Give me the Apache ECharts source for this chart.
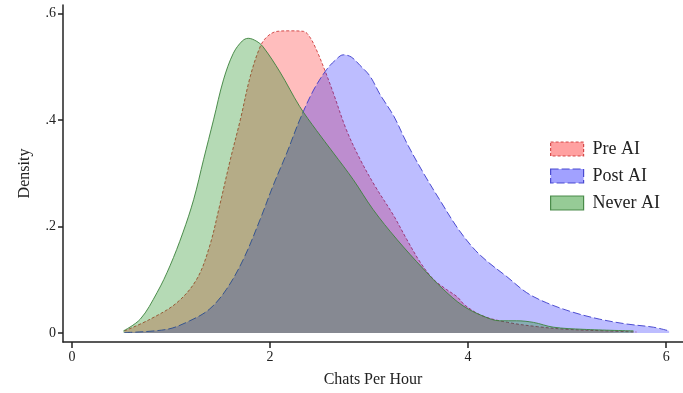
<!DOCTYPE html>
<html>
<head>
<meta charset="utf-8">
<style>
  html, body { margin: 0; padding: 0; background: #fff; }
  #chart { width: 683px; height: 393px; }
</style>
<script src="https://cdn.jsdelivr.net/npm/echarts@6/dist/echarts.min.js"></script>
</head>
<body>
<div id="chart"></div>
<script>
// kernel density curves
const preX  = [0.53, 0.79, 1.06, 1.26, 1.39, 1.49, 1.60, 1.70, 1.80, 1.90, 1.97, 2.07, 2.20, 2.34, 2.40, 2.47, 2.56, 2.64, 2.77, 2.91, 3.06, 3.25, 3.38, 3.52, 3.65, 3.78, 3.89, 3.97, 4.15, 4.40, 4.70, 5.00, 5.40, 5.70];
const preY  = [0.004, 0.026, 0.057, 0.101, 0.163, 0.238, 0.326, 0.400, 0.481, 0.537, 0.556, 0.566, 0.567, 0.566, 0.556, 0.531, 0.490, 0.450, 0.382, 0.326, 0.276, 0.220, 0.176, 0.132, 0.101, 0.082, 0.068, 0.052, 0.032, 0.020, 0.012, 0.007, 0.004, 0.002];

const postX = [0.53, 0.96, 1.19, 1.39, 1.56, 1.73, 1.90, 2.03, 2.17, 2.30, 2.44, 2.57, 2.66, 2.74, 2.82, 2.91, 3.01, 3.11, 3.25, 3.38, 3.55, 3.72, 3.89, 4.05, 4.19, 4.39, 4.59, 4.79, 5.06, 5.33, 5.60, 5.87, 6.03];
const postY = [0.001, 0.007, 0.023, 0.045, 0.082, 0.138, 0.213, 0.276, 0.338, 0.400, 0.456, 0.494, 0.512, 0.522, 0.518, 0.502, 0.482, 0.448, 0.407, 0.357, 0.300, 0.248, 0.198, 0.160, 0.135, 0.106, 0.076, 0.057, 0.039, 0.026, 0.017, 0.011, 0.004];

const neverX = [0.52, 0.69, 0.86, 0.99, 1.12, 1.23, 1.33, 1.43, 1.53, 1.63, 1.72, 1.78, 1.86, 1.93, 2.10, 2.30, 2.47, 2.64, 2.84, 3.04, 3.28, 3.55, 3.75, 3.95, 4.15, 4.32, 4.49, 4.66, 4.86, 5.16, 5.67];
const neverY = [0.004, 0.026, 0.076, 0.126, 0.188, 0.251, 0.326, 0.400, 0.475, 0.525, 0.548, 0.553, 0.548, 0.537, 0.490, 0.425, 0.380, 0.338, 0.288, 0.232, 0.176, 0.120, 0.082, 0.051, 0.032, 0.023, 0.023, 0.020, 0.011, 0.007, 0.004];

const names  = ['Pre AI', 'Post AI', 'Never AI'];
const xTicks = [0, 2, 4, 6];
const yTicks = [0, 0.2, 0.4, 0.6];

const FONT = '"Liberation Serif", "DejaVu Serif", serif';
const zip = (xs, ys) => xs.map((x, i) => [x, ys[i]]);

const looks = [
  { fill: 'rgba(255,0,0,0.37)', line: 'rgba(200,40,40,0.8)', type: [3, 2] },
  { fill: 'rgba(0,0,255,0.37)', line: 'rgba(50,50,200,0.85)', type: [8, 3] },
  { fill: 'rgba(0,128,0,0.41)', line: 'rgba(60,130,60,0.9)', type: 'solid' }
];
const curves = [zip(preX, preY), zip(postX, postY), zip(neverX, neverY)];

const chart = echarts.init(document.getElementById('chart'));
chart.setOption({
  animation: false,
  textStyle: { fontFamily: FONT, color: '#222' },
  grid: { left: 63, right: 0, top: 5, bottom: 50 },
  xAxis: {
    type: 'value', min: -0.09, max: 6.17,
    name: 'Chats Per Hour', nameLocation: 'middle', nameGap: 30,
    nameTextStyle: { fontFamily: FONT, fontSize: 16, color: '#222' },
    axisLine: { show: true, onZero: false, lineStyle: { color: '#222', width: 1.5 } },
    axisTick: { show: true, length: 6, customValues: xTicks, lineStyle: { color: '#222', width: 1.5 } },
    axisLabel: { customValues: xTicks, fontFamily: FONT, fontSize: 14, color: '#222', margin: 8 },
    splitLine: { show: false }
  },
  yAxis: {
    type: 'value', min: -0.0168, max: 0.6155,
    name: 'Density', nameLocation: 'middle', nameGap: 30, nameRotate: 90,
    nameTextStyle: { fontFamily: FONT, fontSize: 16, color: '#222' },
    axisLine: { show: true, onZero: false, lineStyle: { color: '#222', width: 1.5 } },
    axisTick: { show: true, length: 5, customValues: yTicks, lineStyle: { color: '#222', width: 1.5 } },
    axisLabel: {
      customValues: yTicks, fontFamily: FONT, fontSize: 14, color: '#222', margin: 7,
      formatter: v => v === 0 ? '0' : String(+v.toFixed(1)).replace(/^0/, '')
    },
    splitLine: { show: false }
  },
  legend: {
    orient: 'vertical', left: 550, top: 139,
    itemWidth: 33, itemHeight: 14, itemGap: 7, padding: 0,
    icon: 'rect',
    textStyle: { fontFamily: FONT, fontSize: 18, color: '#222', lineHeight: 20, padding: [0, 0, 0, 4] },
    data: names.map((n, i) => ({
      name: n,
      itemStyle: { color: looks[i].fill, borderColor: looks[i].line, borderWidth: 1.2, borderType: looks[i].type }
    }))
  },
  series: names.map((n, i) => ({
    name: n, type: 'line', data: curves[i],
    smooth: 0.35, showSymbol: false, symbol: 'none',
    itemStyle: { color: looks[i].fill },
    lineStyle: { color: looks[i].line, width: 1, type: looks[i].type },
    areaStyle: { color: looks[i].fill, origin: 0 },
    z: 2 + i
  }))
});
</script>
</body>
</html>
